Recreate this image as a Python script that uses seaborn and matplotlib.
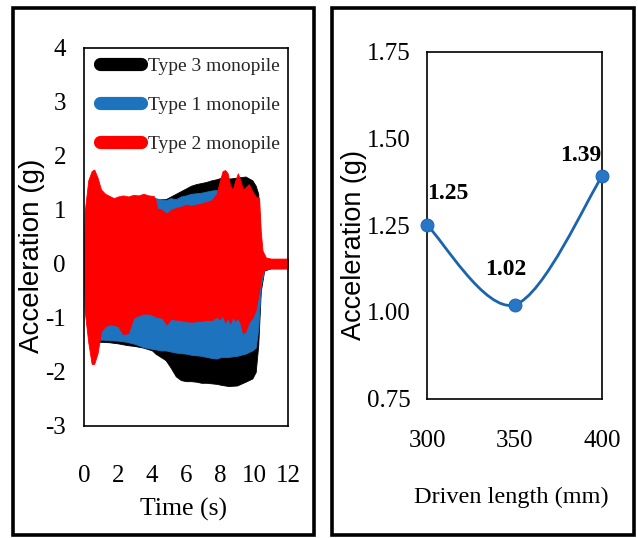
import numpy as np
import pandas as pd
import matplotlib
matplotlib.use("Agg")
import matplotlib.pyplot as plt
import seaborn as sns
from matplotlib.lines import Line2D
from matplotlib.patches import Rectangle, PathPatch
from matplotlib.path import Path

# ---------------- data ----------------
# Left panel: envelopes (upper / lower) of the acceleration records
t_type2 = [0.0, 0.05, 0.25, 0.45, 0.6, 0.8, 1.0, 1.25, 1.5, 1.75, 2.0, 2.3, 2.6, 2.9,
           3.2, 3.5, 3.8, 4.1, 4.2, 4.3, 4.6, 4.85, 5.1, 5.4, 5.7, 6.0, 6.3, 6.6, 6.9,
           7.2, 7.5, 7.8, 8.0, 8.15, 8.3, 8.45, 8.6, 8.75, 8.9, 9.05, 9.2, 9.35, 9.5,
           9.7, 9.9, 10.1, 10.3, 10.4, 10.5, 10.7, 11.0, 11.5, 12.0]
up_type2 = [0.0, 1.0, 1.55, 1.72, 1.75, 1.6, 1.38, 1.30, 1.26, 1.22, 1.25, 1.27, 1.25, 1.28,
            1.27, 1.30, 1.27, 1.26, 1.20, 1.03, 1.00, 0.93, 1.00, 1.04, 1.06, 1.10, 1.08, 1.10, 1.12,
            1.15, 1.18, 1.30, 1.55, 1.72, 1.74, 1.68, 1.45, 1.38, 1.55, 1.68, 1.55, 1.38, 1.42,
            1.48, 1.35, 1.25, 1.22, 0.60, 0.25, 0.12, 0.10, 0.10, 0.10]
lo_type2 = [0.0, -0.9, -1.45, -1.85, -1.85, -1.65, -1.25, -1.15, -1.12, -1.13, -1.15, -1.30, -1.28, -1.00,
            -0.95, -0.92, -0.92, -0.95, -0.97, -0.98, -1.00, -1.12, -1.02, -1.03, -1.04, -1.06, -1.07, -1.06, -1.05,
            -1.04, -1.04, -0.98, -1.02, -0.95, -1.08, -1.00, -1.10, -0.98, -1.05, -1.00, -1.10, -1.28, -1.25,
            -1.08, -1.00, -0.85, -0.50, -0.30, -0.15, -0.10, -0.08, -0.08, -0.08]

t_type1 = [0.0, 0.05, 0.3, 0.6, 1.0, 1.5, 2.0, 2.5, 3.0, 3.5, 4.0, 4.2, 4.5, 4.8, 5.1, 5.4,
           5.7, 6.0, 6.3, 6.6, 6.9, 7.2, 7.5, 7.8, 8.1, 8.5, 9.0, 9.5, 9.9, 10.1, 10.25,
           10.4, 10.6, 11.0, 12.0]
up_type1 = [0.0, 0.9, 1.4, 1.6, 1.3, 1.2, 1.2, 1.22, 1.22, 1.25, 1.22, 1.22, 1.20, 1.18, 1.22, 1.20,
            1.25, 1.27, 1.30, 1.31, 1.32, 1.34, 1.36, 1.37, 1.35, 1.33, 1.33, 1.30, 1.22, 1.18, 1.10,
            0.30, 0.10, 0.08, 0.08]
lo_type1 = [0.0, -0.8, -1.3, -1.45, -1.40, -1.41, -1.42, -1.44, -1.48, -1.54, -1.57, -1.58, -1.60, -1.60, -1.62, -1.64,
            -1.65, -1.66, -1.68, -1.69, -1.70, -1.72, -1.74, -1.75, -1.72, -1.72, -1.70, -1.66, -1.60, -1.55, -1.20,
            -0.40, -0.10, -0.08, -0.08]

t_type3 = t_type1
up_type3 = [0.0, 0.9, 1.4, 1.6, 1.28, 1.2, 1.2, 1.22, 1.22, 1.25, 1.22, 1.20, 1.20, 1.20, 1.25, 1.30,
            1.35, 1.40, 1.45, 1.48, 1.50, 1.52, 1.55, 1.57, 1.60, 1.58, 1.60, 1.62, 1.55, 1.45, 1.30,
            0.30, 0.10, 0.08, 0.08]
lo_type3 = [0.0, -0.8, -1.3, -1.45, -1.44, -1.45, -1.47, -1.50, -1.52, -1.55, -1.60, -1.66, -1.72, -1.78, -1.92, -2.08,
            -2.15, -2.17, -2.17, -2.18, -2.20, -2.20, -2.21, -2.22, -2.24, -2.26, -2.25, -2.18, -2.12, -2.00, -1.50,
            -0.50, -0.12, -0.08, -0.08]

series_labels = ["Type 3 monopile", "Type 1 monopile", "Type 2 monopile"]
series_colors = ["#000000", "#1e73be", "#ff0000"]

# Right panel
driven_length = [300, 350, 400]
peak_acc = [1.25, 1.02, 1.39]
peak_labels = ["1.25", "1.02", "1.39"]

left_yticks = [-3, -2, -1, 0, 1, 2, 3, 4]
left_xticks = [0, 2, 4, 6, 8, 10, 12]
right_yticks = [0.75, 1.00, 1.25, 1.50, 1.75]
right_xticks = [300, 350, 400]

# ---------------- styling ----------------
sns.set_theme(style="white")
plt.rcParams["font.family"] = ["Liberation Serif", "DejaVu Serif"]
plt.rcParams["axes.edgecolor"] = "black"
plt.rcParams["axes.linewidth"] = 1.2

fig = plt.figure(figsize=(6.38, 5.38), dpi=100)
W, H = 638.0, 538.0

def axes_rect(x0, y0, x1, y1):
    return [x0 / W, 1 - y1 / H, (x1 - x0) / W, (y1 - y0) / H]

# outer frames
for (x0, y0, x1, y1) in [(13, 8, 314, 535), (332, 8, 634, 535)]:
    fig.add_artist(Rectangle((x0 / W, 1 - y1 / H), (x1 - x0) / W, (y1 - y0) / H,
                             transform=fig.transFigure, fill=False, lw=2.6,
                             edgecolor="black"))

# ---------------- left panel ----------------
axL = fig.add_axes(axes_rect(84, 48, 288, 426))
env = [(t_type3, up_type3, lo_type3), (t_type1, up_type1, lo_type1), (t_type2, up_type2, lo_type2)]
for (t, up, lo), col in zip(env, series_colors):
    axL.fill_between(t, lo, up, color=col, linewidth=0.6, edgecolor=col)

axL.set_xlim(0, 12)
axL.set_ylim(-3, 4)
axL.set_xticks(left_xticks)
axL.set_yticks(left_yticks)
axL.set_yticklabels([str(v) for v in left_yticks])
axL.tick_params(axis="both", direction="in", length=5, width=1.2, colors="black",
                labelsize=18)
axL.tick_params(axis="x", pad=28)
axL.tick_params(axis="y", pad=13)
for s in axL.spines.values():
    s.set_visible(True)
    s.set_color("black")

axL.set_xlabel("Time (s)", fontsize=18.5, color="black")
axL.xaxis.set_label_coords(0.49, -0.222)
axL.xaxis.label.set_va("center")
axL.set_ylabel("Acceleration (g)", fontsize=20, color="black",
               family=["Liberation Sans", "DejaVu Sans"])
axL.yaxis.set_label_coords(-0.255, 0.45)
axL.yaxis.label.set_va("center")

handles = [Line2D([0], [0], color=c, lw=9.5, solid_capstyle="round") for c in series_colors]
axL.legend(handles, series_labels, loc="upper left", bbox_to_anchor=(0.08, 0.975),
           frameon=False, fontsize=14, handlelength=2.1, handletextpad=0.35,
           labelspacing=1.1, borderpad=0, borderaxespad=0)

# ---------------- right panel ----------------
axR = fig.add_axes(axes_rect(427, 51.6, 602, 398.5))
df = pd.DataFrame({"driven": driven_length, "acc": peak_acc})

# smooth (Excel-style) curve through the data points
pts = np.column_stack([df["driven"].to_numpy(float), df["acc"].to_numpy(float)])
ext = np.vstack([pts[0], pts, pts[-1]])
verts = [tuple(pts[0])]
codes = [Path.MOVETO]
for i in range(len(pts) - 1):
    p0, p1, p2, p3 = ext[i], ext[i + 1], ext[i + 2], ext[i + 3]
    c1 = p1 + (p2 - p0) / 6.0
    c2 = p2 - (p3 - p1) / 6.0
    verts += [tuple(c1), tuple(c2), tuple(p2)]
    codes += [Path.CURVE4] * 3
axR.add_patch(PathPatch(Path(verts, codes), fill=False, edgecolor="#1a63ad", lw=2.0))

sns.scatterplot(data=df, x="driven", y="acc", ax=axR, s=85, color="#2777c6",
                edgecolor="#1f68b5", linewidth=0.8, zorder=5, clip_on=False, legend=False)

offsets = [(21, 32), (-9, 35), (-21, 21)]
for x, y, lab, (dx, dy) in zip(driven_length, peak_acc, peak_labels, offsets):
    axR.annotate(lab, (x, y), xytext=(dx * 0.72, dy * 0.72), textcoords="offset points",
                 ha="center", va="center", fontsize=17, fontweight="bold", color="black")

axR.set_xlim(300, 400)
axR.set_ylim(0.75, 1.75)
axR.set_xticks(right_xticks)
axR.set_yticks(right_yticks)
axR.set_yticklabels([f"{v:.2f}" for v in right_yticks])
axR.tick_params(axis="both", direction="in", length=5, width=1.2, colors="black",
                labelsize=18)
axR.tick_params(axis="x", pad=23)
axR.tick_params(axis="y", pad=12)
for s in axR.spines.values():
    s.set_visible(True)
    s.set_color("black")

axR.set_xlabel("Driven length (mm)", fontsize=17.5, color="black")
axR.xaxis.set_label_coords(0.48, -0.284)
axR.xaxis.label.set_va("center")
axR.set_ylabel("Acceleration (g)", fontsize=19.5, color="black",
               family=["Liberation Sans", "DejaVu Sans"])
axR.yaxis.set_label_coords(-0.415, 0.442)
axR.yaxis.label.set_va("center")

fig.savefig("out.png", dpi=100)
